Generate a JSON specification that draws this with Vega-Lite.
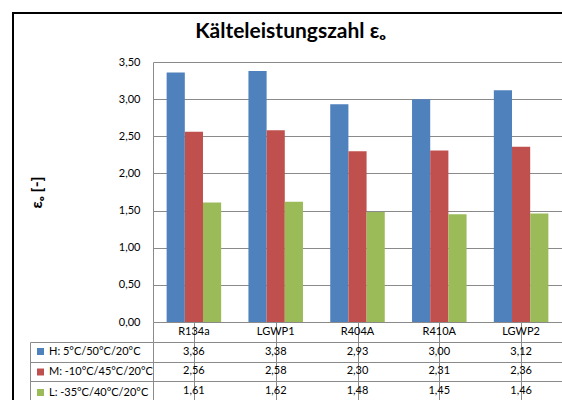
{
  "$schema": "https://vega.github.io/schema/vega-lite/v6.json",
  "padding": {"left": 12, "top": 12, "right": 0, "bottom": 0},
  "background": "white",
  "config": {
    "view": {"stroke": null},
    "font": "Lato",
    "locale": {"number": {"decimal": ",", "thousands": ".", "grouping": [3], "currency": ["", " €"]}}
  },
  "datasets": {
    "bars": [
      {"ref": "R134a", "series": "H: 5°C/50°C/20°C", "value": 3.36},
      {"ref": "LGWP1", "series": "H: 5°C/50°C/20°C", "value": 3.38},
      {"ref": "R404A", "series": "H: 5°C/50°C/20°C", "value": 2.93},
      {"ref": "R410A", "series": "H: 5°C/50°C/20°C", "value": 3.00},
      {"ref": "LGWP2", "series": "H: 5°C/50°C/20°C", "value": 3.12},
      {"ref": "R134a", "series": "M: -10°C/45°C/20°C", "value": 2.56},
      {"ref": "LGWP1", "series": "M: -10°C/45°C/20°C", "value": 2.58},
      {"ref": "R404A", "series": "M: -10°C/45°C/20°C", "value": 2.30},
      {"ref": "R410A", "series": "M: -10°C/45°C/20°C", "value": 2.31},
      {"ref": "LGWP2", "series": "M: -10°C/45°C/20°C", "value": 2.36},
      {"ref": "R134a", "series": "L: -35°C/40°C/20°C", "value": 1.61},
      {"ref": "LGWP1", "series": "L: -35°C/40°C/20°C", "value": 1.62},
      {"ref": "R404A", "series": "L: -35°C/40°C/20°C", "value": 1.48},
      {"ref": "R410A", "series": "L: -35°C/40°C/20°C", "value": 1.45},
      {"ref": "LGWP2", "series": "L: -35°C/40°C/20°C", "value": 1.46}
    ],
    "refs": [
      {"ref": "R134a"}, {"ref": "LGWP1"}, {"ref": "R404A"}, {"ref": "R410A"}, {"ref": "LGWP2"}
    ],
    "empty": []
  },
  "bounds": "flush",
  "spacing": 0,
  "vconcat": [
    {
      "width": 550, "height": 2,
      "view": {"fill": "#000000", "stroke": null},
      "data": {"name": "empty"},
      "mark": "rect",
      "encoding": {}
    },
    {
      "bounds": "flush",
      "spacing": 139,
      "hconcat": [
        {
          "width": 2, "height": 386,
          "view": {"fill": "#000000", "stroke": null},
          "data": {"name": "empty"},
          "mark": "rect",
          "encoding": {}
        },
        {
          "bounds": "flush",
          "spacing": 0,
          "resolve": {"scale": {"color": "independent"}, "legend": {"color": "independent"}},
          "vconcat": [
            {
              "width": 409, "height": 48,
              "data": {"name": "empty"},
              "mark": "rect",
              "encoding": {}
            },
            {
              "width": 409, "height": 260,
              "data": {"name": "bars"},
              "title": {"text": "Kälteleistungszahl εₒ", "fontSize": 21, "fontWeight": "bold", "color": "#000000", "anchor": "middle", "frame": "group", "dx": -67, "offset": 14},
              "mark": {"type": "bar"},
              "encoding": {
                "x": {"field": "ref", "type": "nominal", "sort": ["R134a", "LGWP1", "R404A", "R410A", "LGWP2"], "scale": {"paddingInner": 0, "paddingOuter": 0}, "axis": null},
                "xOffset": {"field": "series", "type": "nominal", "sort": ["H: 5°C/50°C/20°C", "M: -10°C/45°C/20°C", "L: -35°C/40°C/20°C"], "scale": {"paddingInner": 0, "paddingOuter": 0.75}},
                "y": {
                  "field": "value", "type": "quantitative",
                  "scale": {"domain": [0, 3.5], "nice": false},
                  "axis": {
                    "values": [0, 0.5, 1, 1.5, 2, 2.5, 3, 3.5],
                    "format": ".2f",
                    "grid": true, "gridColor": "#8a8a8a", "gridOpacity": 1,
                    "domainColor": "#8a8a8a",
                    "ticks": false,
                    "labelPadding": 13, "labelFontSize": 11, "labelColor": "#000000",
                    "title": "εₒ [-]", "titleFontSize": 16, "titleFontWeight": "bold", "titleColor": "#000000",
                    "titlePadding": 74
                  }
                },
                "color": {
                  "field": "series", "type": "nominal",
                  "scale": {"domain": ["H: 5°C/50°C/20°C", "M: -10°C/45°C/20°C", "L: -35°C/40°C/20°C"], "range": ["#4F81BD", "#C0504D", "#9BBB59"]},
                  "legend": {
                    "orient": "none", "legendX": -118, "legendY": 284,
                    "title": null, "symbolType": "square", "symbolSize": 49, "symbolStrokeWidth": 0,
                    "labelFontSize": 11, "labelColor": "#000000", "labelOffset": 3,
                    "rowPadding": 8.5, "padding": 0
                  }
                }
              }
            },
            {
              "width": 409, "height": 19.5,
              "data": {"name": "refs"},
              "mark": {"type": "text", "fontSize": 11, "color": "#000000"},
              "encoding": {
                "x": {"field": "ref", "type": "nominal", "sort": ["R134a", "LGWP1", "R404A", "R410A", "LGWP2"], "scale": {"paddingInner": 0, "paddingOuter": 0},
                      "axis": {"orient": "bottom", "bandPosition": 0, "grid": true, "gridColor": "#8a8a8a", "gridOpacity": 1, "labels": false, "ticks": false, "domain": false, "title": null}},
                "y": {"datum": "Kältemittel", "type": "nominal", "scale": {"paddingInner": 0, "paddingOuter": 0},
                      "axis": {"labels": false, "ticks": false, "grid": false, "domainColor": "#8a8a8a", "title": null}},
                "text": {"field": "ref"}
              }
            },
            {
              "width": 409, "height": 58.5,
              "data": {"name": "bars"},
              "resolve": {"axis": {"y": "independent"}},
              "layer": [
                {
                  "mark": {"type": "text", "fontSize": 11, "color": "#000000"},
                  "encoding": {
                    "x": {"field": "ref", "type": "nominal", "sort": ["R134a", "LGWP1", "R404A", "R410A", "LGWP2"], "scale": {"paddingInner": 0, "paddingOuter": 0},
                          "axis": {"orient": "bottom", "bandPosition": 0, "grid": true, "gridColor": "#8a8a8a", "gridOpacity": 1, "labels": false, "ticks": false, "domain": false, "title": null}},
                    "y": {"field": "series", "type": "nominal", "sort": ["H: 5°C/50°C/20°C", "M: -10°C/45°C/20°C", "L: -35°C/40°C/20°C"], "scale": {"paddingInner": 0, "paddingOuter": 0},
                          "axis": {"orient": "left", "tickBand": "extent", "grid": true, "gridColor": "#8a8a8a", "gridOpacity": 1, "labels": false, "ticks": true, "tickSize": 123, "tickColor": "#8a8a8a", "domainColor": "#8a8a8a", "title": null}},
                    "text": {"field": "value", "type": "quantitative", "format": ".2f"}
                  }
                },
                {
                  "mark": {"type": "text", "opacity": 0},
                  "encoding": {
                    "x": {"field": "ref", "type": "nominal", "sort": ["R134a", "LGWP1", "R404A", "R410A", "LGWP2"]},
                    "y": {"field": "series", "type": "nominal", "sort": ["H: 5°C/50°C/20°C", "M: -10°C/45°C/20°C", "L: -35°C/40°C/20°C"],
                          "axis": {"orient": "left", "offset": 123, "labels": false, "ticks": false, "grid": false, "domainColor": "#8a8a8a", "title": null}},
                    "text": {"field": "ref"}
                  }
                }
              ]
            }
          ]
        }
      ]
    }
  ]
}
